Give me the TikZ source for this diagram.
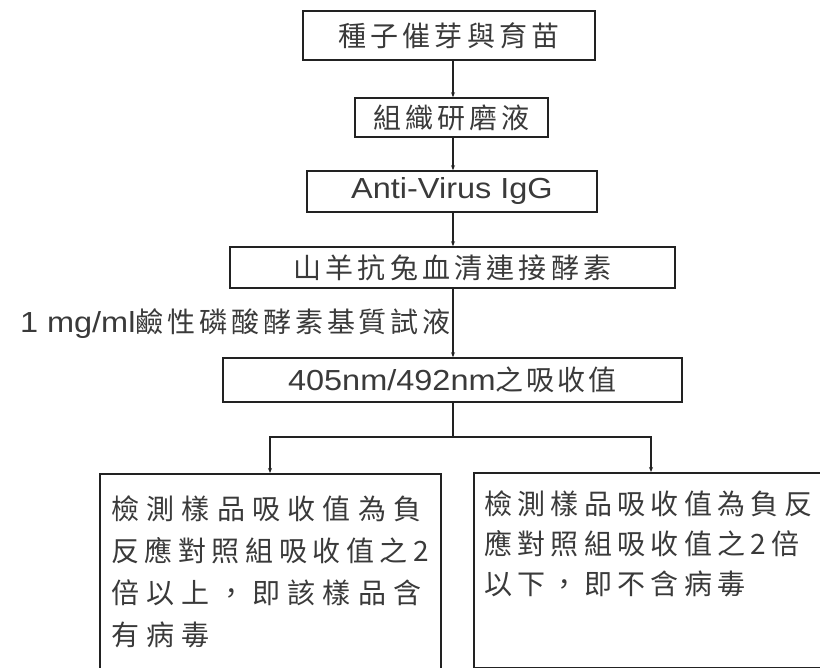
\documentclass[tikz,border=0pt]{standalone}
\usepackage{fontspec}
\setmainfont{Liberation Sans}
\newfontfamily\cjk{Noto Sans CJK TC}
\usetikzlibrary{arrows.meta}
\definecolor{ink}{HTML}{222222}
\definecolor{txt}{HTML}{3A3A3A}
\newcommand\latf{\fontsize{29}{34}\selectfont\addfontfeature{FakeStretch=1.12}}
\tikzset{
  box/.style={draw=ink, line width=1.6pt, inner sep=0pt, text=txt},
  arr/.style={draw=ink, line width=1.3pt, -{Stealth[length=5pt,width=4pt]}},
  conn/.style={draw=ink, line width=1.3pt},
  cjkA/.style={font=\cjk\fontsize{28}{30}\selectfont\addfontfeature{LetterSpace=15}},
  lat/.style={font=\latf},
}
\begin{document}
\begin{tikzpicture}[x=1pt,y=-1pt]
\useasboundingbox (0,0) rectangle (820,668);
\clip (0,0) rectangle (820,668);
\coordinate (axis) at (453,0);
\node[box, cjkA, minimum width=292pt, minimum height=49pt] (b1) at (449,35.5) {種子催芽與育苗};
\node[box, cjkA, minimum width=193pt, minimum height=39pt] (b2) at (451.5,117.5) {組織研磨液};
\node[box, lat, minimum width=290pt, minimum height=41pt] (b3) at (452,191.5) {Anti-Virus IgG};
\node[box, cjkA, minimum width=445pt, minimum height=41pt] (b4) at (452.5,267.5) {山羊抗兔血清連接酵素};
\node[box, minimum width=459pt, minimum height=44pt] (b5) at (452.5,380) {{\latf 405nm/492nm}{\cjk\fontsize{28}{30}\selectfont\addfontfeature{LetterSpace=11}之吸收值}};
\node[anchor=east, inner sep=0pt, text=txt] (lab) at (451,324) {{\latf 1 mg/ml}{\cjk\fontsize{28}{30}\selectfont\addfontfeature{LetterSpace=14}鹼性磷酸酵素基質試液}};
\node[box, anchor=north west, minimum width=341pt, minimum height=215pt] (lb) at (99,473) {};
\node[box, anchor=north west, minimum width=360pt, minimum height=195pt] (rb) at (473,472) {};
\node[anchor=north west, inner sep=0pt, text=txt, align=left, font=\cjk\fontsize{28}{42}\selectfont\addfontfeature{LetterSpace=26}] (lt) at (111,496) {檢測樣品吸收值為負\\{\addfontfeature{LetterSpace=20}反應對照組吸收值之2}\\倍以上，即該樣品含\\有病毒};
\node[anchor=north west, inner sep=0pt, text=txt, align=left, font=\cjk\fontsize{28}{40}\selectfont\addfontfeature{LetterSpace=19}] (rt) at (484,491) {檢測樣品吸收值為負反\\應對照組吸收值之2倍\\以下，即不含病毒};
\draw[arr] (b1.south -| axis) -- (b2.north -| axis);
\draw[arr] (b2.south -| axis) -- (b3.north -| axis);
\draw[arr] (b3.south -| axis) -- (b4.north -| axis);
\draw[arr] (b4.south -| axis) -- (b5.north -| axis);
\coordinate (split) at (453,437);
\coordinate (lin) at (270,473);
\coordinate (rin) at (651,472);
\draw[conn] (b5.south -| axis) -- (split);
\draw[arr] (split) -| (lin);
\draw[arr] (split) -| (rin);
\end{tikzpicture}
\end{document}
